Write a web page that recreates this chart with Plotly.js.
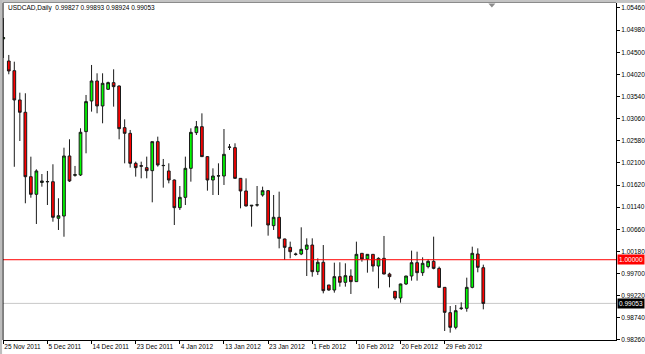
<!DOCTYPE html>
<html>
<head>
<meta charset="utf-8">
<script src="https://cdn.plot.ly/plotly-3.0.1.min.js"></script>
<style>
html,body{margin:0;padding:0;background:#fff;}
#chart{width:645px;height:354px;}
</style>
</head>
<body>
<div id="chart"></div>
<script>
// Bar index (one per trading day, MT4 daily bars incl. Sunday bars)
var barIndex = [];
for (var k = 0; k < 88; k++) barIndex.push(k);

var opens = [1.04790,1.04310,1.04100,1.03465,1.03198,1.01801,1.01419,1.01675,1.01690,1.01692,
1.00899,1.00948,1.02250,1.01830,1.01838,1.02778,1.03443,1.03877,1.03335,1.03696,
1.03841,1.03768,1.02865,1.02742,1.02091,1.02040,1.01997,1.01932,1.02561,1.02040,
1.01925,1.01729,1.01129,1.01353,1.01982,1.02756,1.02886,1.02236,1.01729,1.01816,
1.01816,1.02438,1.02431,1.01765,1.01491,1.01165,1.01187,1.01404,1.01498,1.00739,
1.00920,1.00450,1.00269,1.00125,1.00124,1.00225,1.00319,0.99741,0.99944,0.99452,
0.99343,0.99633,0.99510,0.99647,0.99525,1.00139,1.00016,1.00117,0.99864,1.00030,
0.99690,0.99315,0.99170,0.99474,0.99647,0.99936,0.99719,0.99850,0.99965,0.99813,
0.99401,0.98852,0.98534,0.98940,0.98946,0.99401,1.00124,0.99827];

var highs = [1.05243,1.04441,1.04295,1.03623,1.03610,1.02235,1.01961,1.01859,1.01925,1.02070,
1.01333,1.02430,1.02612,1.02034,1.02851,1.03573,1.04224,1.04043,1.04043,1.03862,
1.04130,1.03780,1.03045,1.02814,1.02127,1.02127,1.02236,1.02561,1.02669,1.02185,
1.02091,1.01740,1.01599,1.02236,1.02850,1.03009,1.03175,1.02245,1.01982,1.02091,
1.02835,1.02510,1.02525,1.01772,1.01765,1.01187,1.01599,1.01585,1.01505,1.01404,
1.01476,1.00457,1.00392,1.00153,1.00703,1.00464,1.00464,1.00030,1.00319,0.99452,
0.99936,0.99944,0.99922,0.99792,1.00392,1.00145,1.00120,1.00120,1.00052,1.00515,
0.99719,0.99320,0.99480,0.99650,1.00197,1.00175,1.00052,1.00009,1.00500,0.99850,
0.99405,0.98996,0.99018,0.99076,0.99611,1.00283,1.00247,0.99893];

var lows = [1.04376,1.04022,1.02016,1.02575,1.01224,1.01345,1.00775,1.01584,1.01187,1.00825,
1.00645,1.00499,1.01686,1.01801,1.01816,1.02308,1.03212,1.03176,1.02959,1.03682,
1.03320,1.02612,1.02091,1.01997,1.01802,1.01766,1.01766,1.01245,1.02019,1.01563,
1.01657,1.00753,1.01079,1.01187,1.01693,1.02705,1.02230,1.01498,1.01404,1.01404,
1.01621,1.02380,1.01758,1.01115,1.01158,1.00717,1.01151,1.01368,1.00522,1.00645,
1.00247,0.99994,1.00030,1.00088,1.00100,0.99647,0.99633,0.99669,0.99271,0.99329,
0.99286,0.99416,0.99416,0.99257,0.99520,0.99958,0.99719,0.99741,0.99380,0.99685,
0.99401,0.99127,0.99069,0.99452,0.99546,0.99546,0.99650,0.99813,0.99792,0.99395,
0.98454,0.98418,0.98490,0.98910,0.98873,0.99380,0.99727,0.98924];

var closes = [1.04820,1.04094,1.03465,1.03198,1.01801,1.01419,1.01925,1.01708,1.01695,1.00920,
1.00955,1.02250,1.01708,1.01845,1.02764,1.03429,1.03877,1.03335,1.03826,1.03841,
1.03754,1.02843,1.02742,1.02091,1.01997,1.02030,1.01932,1.02561,1.02055,1.02045,
1.01729,1.01129,1.01353,1.01982,1.02763,1.02886,1.02236,1.01729,1.01816,1.01820,
1.02286,1.02442,1.01765,1.01491,1.01165,1.01180,1.01190,1.01498,1.00753,1.00920,
1.00464,1.00269,1.00175,1.00115,1.00225,1.00319,0.99741,0.99944,0.99329,0.99343,
0.99633,0.99510,0.99654,0.99525,1.00117,1.00016,1.00117,0.99864,1.00030,0.99690,
0.99633,0.99170,0.99474,0.99647,0.99936,0.99719,0.99922,0.99965,0.99813,0.99401,
0.98859,0.98534,0.98895,0.98950,0.99401,1.00139,0.99835,0.99053];

var dateTickIndex = [0, 8, 16, 24, 32, 40, 48, 56, 64, 72, 80];
var dateTickLabels = ["25 Nov 2011","5 Dec 2011","14 Dec 2011","23 Dec 2011","4 Jan 2012",
  "13 Jan 2012","23 Jan 2012","1 Feb 2012","10 Feb 2012","20 Feb 2012","29 Feb 2012"];

var priceTicks = [1.05460,1.04980,1.04500,1.04020,1.03540,1.03060,1.02580,1.02100,
  1.01620,1.01140,1.00660,1.00180,0.99700,0.99220,0.98740,0.98260];

var symbolName = "USDCAD,Daily";
var levelPrice = 1.00000;
var last = closes.length - 1;
var bidPrice = closes[last];

var FONT = "Liberation Sans, Arial, sans-serif";

var trace = {
  type: 'candlestick',
  x: barIndex, open: opens, high: highs, low: lows, close: closes,
  increasing: {line: {color: '#1a1a1a', width: 1}, fillcolor: '#00ff00'},
  decreasing: {line: {color: '#1a1a1a', width: 1}, fillcolor: '#ff0000'},
  whiskerwidth: 0,
  hoverinfo: 'skip',
  showlegend: false
};

var header = symbolName + "  " + opens[last].toFixed(5) + " " + highs[last].toFixed(5) + " " +
  lows[last].toFixed(5) + " " + closes[last].toFixed(5);

var layout = {
  width: 645, height: 354,
  margin: {l: 3, r: 29, t: 3, b: 14, pad: 0},
  paper_bgcolor: '#ffffff', plot_bgcolor: '#ffffff',
  boxgap: 0.3,
  font: {family: FONT, size: 6.5, color: '#000'},
  showlegend: false,
  xaxis: {
    range: [-0.05, 111.05],
    rangeslider: {visible: false},
    showgrid: false, zeroline: false,
    showline: true, linecolor: '#000', linewidth: 1,
    tickmode: 'array', tickvals: dateTickIndex, ticktext: dateTickLabels,
    ticks: 'outside', ticklen: 3, tickcolor: '#000', tickwidth: 1,
    tickangle: 0, automargin: false,
    ticklabelposition: 'outside right',
    tickfont: {family: FONT, size: 6.5, color: '#000'},
    fixedrange: true
  },
  yaxis: {
    side: 'right',
    range: [0.98259, 1.05568],
    showgrid: false, zeroline: false,
    showline: true, linecolor: '#000', linewidth: 1,
    tickmode: 'array', tickvals: priceTicks,
    tickformat: '.5f', automargin: false,
    ticks: 'outside', ticklen: 3, tickcolor: '#000', tickwidth: 1,
    tickfont: {family: FONT, size: 6.5, color: '#000'},
    fixedrange: true
  },
  shapes: [
    {type: 'line', xref: 'paper', x0: 0, x1: 1, yref: 'y', y0: bidPrice, y1: bidPrice,
     line: {color: '#c8c8c8', width: 1}, layer: 'below'},
    {type: 'line', xref: 'paper', x0: 0, x1: 1, yref: 'y', y0: levelPrice, y1: levelPrice,
     line: {color: '#ff0000', width: 1}},
    {type: 'line', xref: 'paper', x0: 0, x1: 0, yref: 'paper', y0: 0, y1: 1,
     line: {color: '#000', width: 1}},
    {type: 'rect', xref: 'paper', x0: -0.01, x1: 1.06, yref: 'paper', y0: 1.0, y1: 1.012,
     fillcolor: '#c4c4c4', line: {width: 0}},
    {type: 'line', xref: 'paper', x0: 0, x1: 1.0, yref: 'paper', y0: 1.0015, y1: 1.0015,
     line: {color: '#8a8a8a', width: 1}},
    {type: 'rect', xref: 'paper', x0: -0.006, x1: -0.0015, yref: 'paper', y0: -0.05, y1: 1.01,
     fillcolor: '#bdbdbd', line: {width: 0}},
    {type: 'path', xref: 'paper', yref: 'paper',
     path: 'M 0.7918 0.9985 L 0.8032 0.9985 L 0.7975 0.9865 Z',
     fillcolor: '#8c8c8c', line: {width: 0}}
  ],
  annotations: [
    {xref: 'paper', yref: 'paper', x: 0, y: 0.985, xanchor: 'left', yanchor: 'middle',
     xshift: 3, text: header, showarrow: false,
     font: {family: FONT, size: 6.5, color: '#000'}},
    {xref: 'paper', yref: 'y', x: 1, y: levelPrice, xanchor: 'left', yanchor: 'middle',
     xshift: 1, text: levelPrice.toFixed(5), showarrow: false, bgcolor: '#ff0000',
     borderpad: 1, font: {family: FONT, size: 6.5, color: '#fff'}},
    {xref: 'paper', yref: 'y', x: 1, y: bidPrice, xanchor: 'left', yanchor: 'middle',
     xshift: 1, text: bidPrice.toFixed(5), showarrow: false, bgcolor: '#000000',
     borderpad: 1, font: {family: FONT, size: 6.5, color: '#fff'}}
  ]
};

Plotly.newPlot('chart', [trace], layout, {displayModeBar: false, staticPlot: true});
</script>
</body>
</html>
